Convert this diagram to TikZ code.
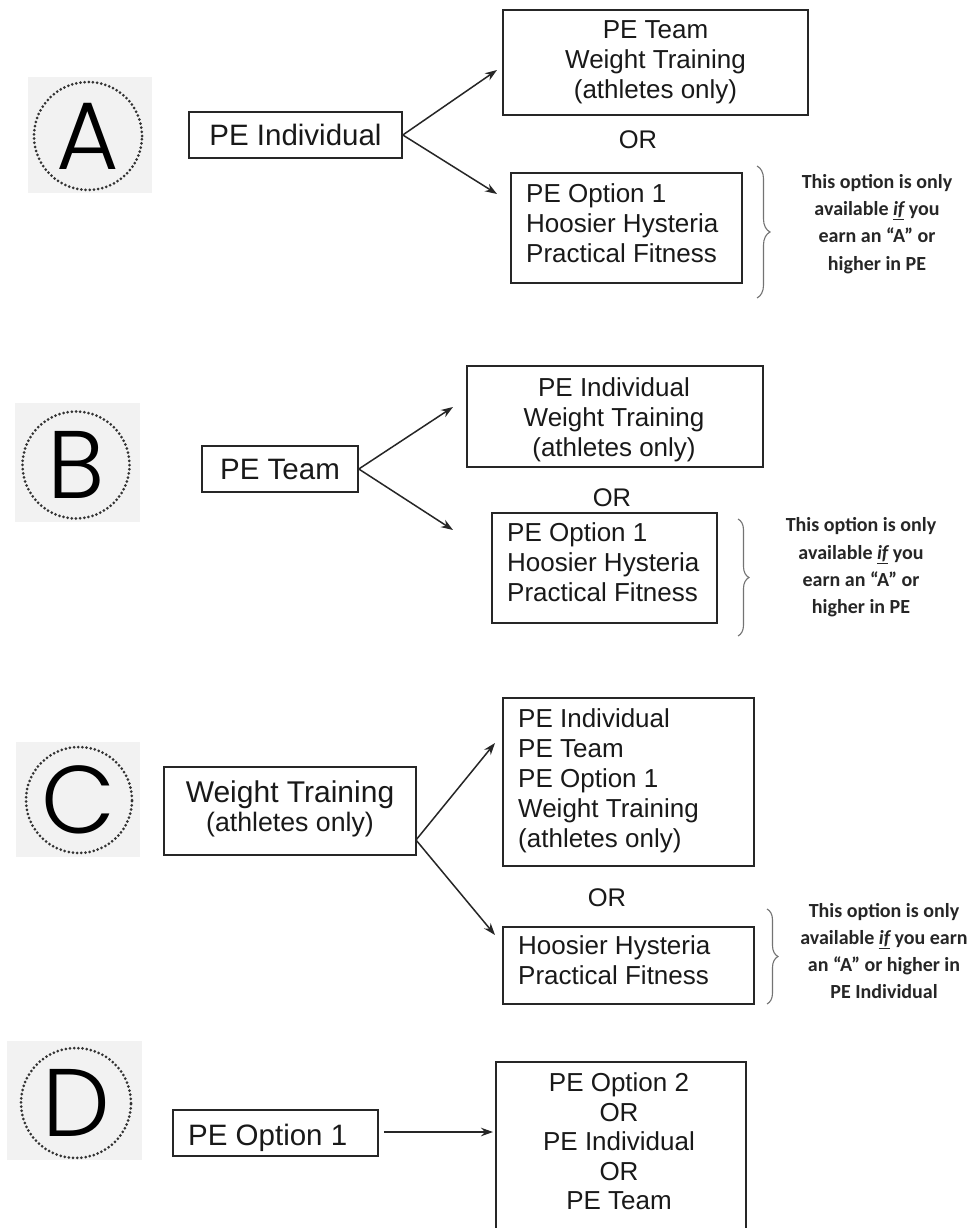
\documentclass[tikz,border=0pt]{standalone}
\usepackage{fontspec}
\setmainfont{Liberation Sans}
\newfontfamily\notefont{Carlito}
\IfFontExistsTF{Poppins Light}{\newfontfamily\circfont{Poppins Light}}{\newfontfamily\circfont{Poppins}}
\usetikzlibrary{arrows.meta,decorations.pathreplacing}
\begin{document}
\begin{tikzpicture}[x=1pt,y=-1pt,
  boxnode/.style={draw=black!85, line width=1.6pt, inner sep=0pt},
  bigtxt/.style={font=\fontsize{29.5}{34}\selectfont, text=black!90},
  smalltxt/.style={font=\fontsize{26}{30}\selectfont, text=black!90, inner sep=0pt},
  ortxt/.style={font=\fontsize{25.5}{30}\selectfont, text=black!90, inner sep=0pt},
  notetxt/.style={font=\notefont\bfseries\fontsize{20}{27.3}\selectfont, align=center, text=black!85, inner sep=0pt},
  circbg/.style={fill=black!5, draw=none},
  circring/.style={draw=black!80, line width=3pt, dash pattern=on 0pt off 4.2pt, line cap=round, circle, inner sep=0pt, font=\circfont\fontsize{96}{96}\selectfont},
  arr/.style={-{Stealth[length=12pt,width=8.5pt]}, line width=1.5pt, draw=black!85},
  bracestyle/.style={decorate, draw=black!55, line width=1.1pt}
]
\useasboundingbox (0,0) rectangle (976,1228);
\clip (0,0) rectangle (976,1228);
\fill[white] (0,0) rectangle (976,1228);

% ---------------- A ----------------
\fill[circbg] (28,77) rectangle (152,193);
\node[circring, minimum size=108pt] (circA) at (88,136) {A};
\node[boxnode, bigtxt, minimum width=213pt, minimum height=46pt] (a1) at (295.5,135) {PE Individual};
\node[boxnode, minimum width=305pt, minimum height=105pt] (a2) at (655.5,62.5) {};
\node[smalltxt, align=center] (a2t) at (655.5,62) {PE Team\\Weight Training\\(athletes only)};
\node[ortxt] (orA) at (638,140) {OR};
\node[boxnode, minimum width=231pt, minimum height=110pt] (a3) at (626.5,228) {};
\node[smalltxt, align=left, anchor=west] (a3t) at (526,223.5) {PE Option 1\\Hoosier Hysteria\\Practical Fitness};
\coordinate (a2in) at (497,70);
\coordinate (a3in) at (497,194);
\draw[arr] (a1.east) -- (a2in);
\draw[arr] (a1.east) -- (a3in);
\coordinate (brAt) at (757,166);
\coordinate (brAb) at (757,298);
\draw[bracestyle, decoration={brace, amplitude=13pt}] (brAt) -- (brAb);
\node[notetxt] (noteA) at (877,224) {This option is only\\available \textit{\underline{if}} you\\earn an “A” or\\higher in PE};

% ---------------- B ----------------
\fill[circbg] (15,403) rectangle (140,522);
\node[circring, minimum size=107pt] (circB) at (76,465) {B};
\node[boxnode, bigtxt, minimum width=156pt, minimum height=46pt] (b1) at (280,469) {PE Team};
\node[boxnode, minimum width=296pt, minimum height=101pt] (b2) at (615,416.5) {};
\node[smalltxt, align=center] (b2t) at (614,420) {PE Individual\\Weight Training\\(athletes only)};
\node[ortxt] (orB) at (612,498) {OR};
\node[boxnode, minimum width=225pt, minimum height=110pt] (b3) at (604.5,568) {};
\node[smalltxt, align=left, anchor=west] (b3t) at (507,562.5) {PE Option 1\\Hoosier Hysteria\\Practical Fitness};
\coordinate (b2in) at (453,407);
\coordinate (b3in) at (453,530);
\draw[arr] (b1.east) -- (b2in);
\draw[arr] (b1.east) -- (b3in);
\coordinate (brBt) at (738,519);
\coordinate (brBb) at (738,636);
\draw[bracestyle, decoration={brace, amplitude=11pt}] (brBt) -- (brBb);
\node[notetxt] (noteB) at (861,567.5) {This option is only\\available \textit{\underline{if}} you\\earn an “A” or\\higher in PE};

% ---------------- C ----------------
\fill[circbg] (16,742) rectangle (140,857);
\node[circring, minimum size=106pt] (circC) at (79,800) {C};
\node[boxnode, minimum width=252pt, minimum height=88pt] (c1) at (290,811) {};
\node[align=center, inner sep=0pt, text=black!90, font=\fontsize{26.7}{29}\selectfont] (c1t) at (290,809) {{\fontsize{30}{29}\selectfont Weight Training}\\(athletes only)};
\node[boxnode, minimum width=251pt, minimum height=168pt] (c2) at (628.5,782) {};
\node[smalltxt, align=left, anchor=west] (c2t) at (518,781) {PE Individual\\PE Team\\PE Option 1\\Weight Training\\(athletes only)};
\node[ortxt] (orC) at (607,898) {OR};
\node[boxnode, minimum width=251pt, minimum height=77pt] (c3) at (628.5,965.5) {};
\node[smalltxt, align=left, anchor=west] (c3t) at (518,960.5) {Hoosier Hysteria\\Practical Fitness};
\coordinate (c1out) at (416,840);
\coordinate (c2in) at (495,743);
\coordinate (c3in) at (495,935);
\draw[arr] (c1out) -- (c2in);
\draw[arr] (c1out) -- (c3in);
\coordinate (brCt) at (767,909);
\coordinate (brCb) at (767,1004);
\draw[bracestyle, decoration={brace, amplitude=11pt}] (brCt) -- (brCb);
\node[notetxt] (noteC) at (884,951) {This option is only\\available \textit{\underline{if}} you earn\\an “A” or higher in\\PE Individual};

% ---------------- D ----------------
\fill[circbg] (7,1041) rectangle (142,1160);
\node[circring, minimum size=110pt] (circD) at (76,1103) {D};
\node[boxnode, minimum width=205pt, minimum height=46pt] (d1) at (275.5,1133) {};
\node[bigtxt, inner sep=0pt, anchor=west] (d1t) at (188,1137.5) {PE Option 1};
\node[boxnode, minimum width=250pt, minimum height=190pt] (d2) at (621,1157) {};
\node[smalltxt, align=center, font=\fontsize{26}{29.5}\selectfont] (d2t) at (619,1141.5) {PE Option 2\\OR\\PE Individual\\OR\\PE Team};
\coordinate (d2in) at (493,1132);
\draw[arr, shorten <=5pt] (d1.east |- d2in) -- (d2in);
\end{tikzpicture}
\end{document}
